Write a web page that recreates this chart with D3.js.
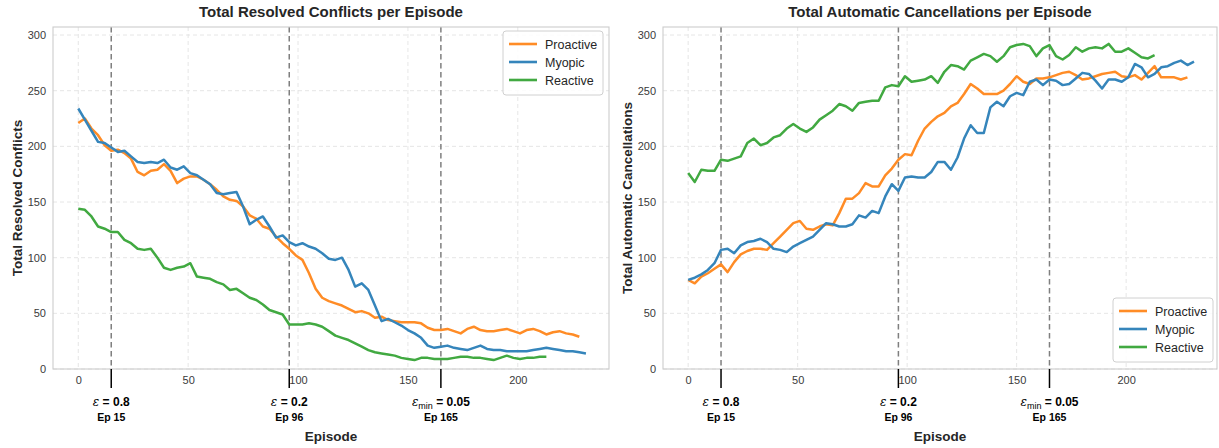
<!DOCTYPE html>
<html>
<head>
<meta charset="utf-8">
<script src="https://cdn.jsdelivr.net/npm/d3@7"></script>
<style>
  body { margin: 0; background: #fff; }
  svg { font-family: "Liberation Sans", Arial, sans-serif; display: block; }
</style>
</head>
<body>
<svg id="chart" width="1219" height="448"></svg>
<script>
// episodes are sampled every EP_STEP episodes (0, 3, 6, ...)
const EP_STEP = 3;
const seriesNames = ["Proactive", "Myopic", "Reactive"];
const seriesColors = ["#ff8c26", "#3585bb", "#41a941"];

const xTicks = [0, 50, 100, 150, 200];
const yTicks = [0, 50, 100, 150, 200, 250, 300];

const epsilonEpisodes = [15, 96, 165];
const epsilonValues = ["0.8", "0.2", "0.05"];

// left panel: resolved conflicts
const resolvedProactive = [221, 225, 216, 210, 201, 196, 197, 194, 189, 177, 174, 178, 179, 184, 178, 167, 171, 173, 173, 170,
  166, 161, 155, 152, 151, 146, 138, 135, 128, 126, 119, 113, 108, 102, 98, 86, 72, 64, 61, 59,
  57, 54, 51, 52, 50, 46, 47, 44, 43, 42, 42, 42, 41, 37, 35, 35, 36, 34, 32, 36,
  38, 35, 34, 34, 35, 36, 34, 32, 35, 36, 34, 31, 33, 34, 32, 31, 29];
const resolvedMyopic = [234, 224, 214, 204, 203, 199, 195, 196, 191, 186, 185, 186, 185, 188, 181, 179, 182, 176, 174, 170,
  166, 158, 157, 158, 159, 146, 130, 134, 137, 128, 118, 120, 114, 111, 113, 110, 108, 104, 99, 98,
  100, 89, 74, 77, 71, 57, 43, 45, 42, 39, 35, 32, 28, 21, 19, 20, 21, 19, 18, 17,
  19, 21, 18, 17, 17, 16, 16, 16, 16, 17, 18, 19, 18, 17, 16, 16, 15, 14];
const resolvedReactive = [144, 143, 137, 128, 126, 123, 123, 116, 113, 108, 107, 108, 100, 91, 89, 91, 92, 95, 83, 82,
  81, 78, 76, 71, 72, 68, 64, 62, 58, 53, 51, 49, 40, 40, 40, 41, 40, 38, 34, 30,
  28, 26, 23, 20, 17, 15, 14, 13, 12, 10, 9, 8, 10, 10, 9, 9, 9, 10, 11, 11,
  10, 10, 9, 8, 10, 12, 10, 9, 10, 10, 11, 11];

// right panel: automatic cancellations
const cancelProactive = [80, 77, 83, 86, 90, 94, 87, 96, 103, 106, 108, 108, 107, 113, 119, 125, 131, 133, 126, 125,
  128, 130, 129, 140, 153, 153, 158, 167, 164, 164, 174, 180, 188, 193, 192, 205, 216, 222, 227, 230,
  236, 239, 247, 256, 252, 247, 247, 247, 250, 256, 263, 258, 256, 261, 261, 262, 264, 266, 267, 264,
  260, 261, 263, 265, 266, 267, 263, 262, 264, 260, 266, 272, 262, 262, 262, 260, 262];
const cancelMyopic = [80, 82, 85, 89, 95, 107, 108, 104, 111, 114, 115, 117, 114, 108, 107, 105, 110, 113, 116, 119,
  125, 131, 130, 128, 128, 130, 138, 136, 142, 140, 155, 166, 160, 172, 173, 172, 172, 177, 186, 186,
  179, 190, 207, 219, 212, 212, 235, 240, 236, 245, 248, 246, 258, 260, 255, 260, 259, 255, 256, 261,
  266, 265, 259, 252, 260, 260, 258, 262, 274, 271, 262, 265, 271, 272, 275, 277, 273, 276];
const cancelReactive = [176, 168, 179, 178, 178, 188, 187, 189, 191, 203, 207, 201, 203, 208, 210, 216, 220, 216, 213, 217,
  224, 228, 232, 238, 236, 232, 239, 240, 241, 241, 253, 255, 254, 263, 258, 259, 260, 263, 257, 267,
  273, 272, 269, 277, 280, 283, 281, 276, 281, 289, 291, 292, 290, 281, 288, 291, 281, 278, 282, 289,
  285, 288, 289, 288, 292, 285, 285, 288, 284, 280, 279, 282];

const svg = d3.select("svg#chart");
const textColor = "#262626";

const drawPanel = (cfg) => {
    const left = cfg.left, right = cfg.right, top = 27, bottom = 369;

    const x = d3.scaleLinear().domain([-11.5, 241.5]).range([left, right]);
    const y = d3.scaleLinear().domain([0, 307.2]).range([bottom, top]);

    const g = svg.append("g").attr("class", "panel");

    // grid
    const grid = g.append("g").attr("class", "grid")
        .attr("stroke", "#e3e3e3").attr("stroke-width", 0.9).attr("stroke-dasharray", "4,3");
    grid.selectAll("line.gx").data(xTicks).enter().append("line")
        .attr("x1", d => x(d)).attr("x2", d => x(d)).attr("y1", top).attr("y2", bottom);
    grid.selectAll("line.gy").data(yTicks).enter().append("line")
        .attr("x1", left).attr("x2", right).attr("y1", d => y(d)).attr("y2", d => y(d));

    // axes (labels only, seaborn style)
    const xAxis = g.append("g").attr("transform", `translate(0,${bottom})`)
        .call(d3.axisBottom(x).tickValues(xTicks).tickSize(0).tickPadding(7));
    const yAxis = g.append("g").attr("transform", `translate(${left},0)`)
        .call(d3.axisLeft(y).tickValues(yTicks).tickSize(0).tickPadding(7));
    [xAxis, yAxis].forEach(ax => {
        ax.select(".domain").remove();
        ax.selectAll("text").attr("font-size", 11).attr("fill", "#3a3a3a")
            .attr("font-family", "Liberation Sans, Arial, sans-serif");
    });

    // epsilon milestone lines
    g.selectAll("line.eps").data(epsilonEpisodes).enter().append("line")
        .attr("x1", d => x(d)).attr("x2", d => x(d))
        .attr("y1", top).attr("y2", bottom)
        .attr("stroke", "#7f7f7f").attr("stroke-width", 1.5).attr("stroke-dasharray", "5.5,3.5");

    // series lines
    const line = d3.line().x((d, i) => x(i * EP_STEP)).y(d => y(d));
    cfg.series.forEach((values, i) => {
        g.append("path").datum(values)
            .attr("fill", "none")
            .attr("stroke", seriesColors[i])
            .attr("stroke-width", 2.5)
            .attr("stroke-linejoin", "round")
            .attr("d", line);
    });

    // frame
    g.append("rect").attr("x", left).attr("y", top)
        .attr("width", right - left).attr("height", bottom - top)
        .attr("fill", "none").attr("stroke", "#cccccc").attr("stroke-width", 1.1);

    // epsilon markers below the axis
    const marks = g.selectAll("g.epsMark").data(epsilonEpisodes).enter().append("g")
        .attr("transform", d => `translate(${x(d)},0)`);
    marks.append("line").attr("y1", bottom).attr("y2", bottom + 19)
        .attr("stroke", "#000").attr("stroke-width", 1.5);
    const epsText = marks.append("text").attr("y", 406).attr("text-anchor", "middle")
        .attr("font-size", 12).attr("fill", "#000");
    epsText.append("tspan").attr("font-style", "italic").attr("font-family", "DejaVu Serif, serif")
        .attr("font-size", 12).text("ε");
    epsText.filter((d, i) => i === 2).append("tspan").attr("font-size", 9).attr("dy", 3).text("min");
    epsText.append("tspan").attr("font-weight", "bold")
        .attr("dy", (d, i) => i === 2 ? -3 : 0)
        .text((d, i) => " = " + epsilonValues[i]);
    marks.append("text").attr("y", 421).attr("text-anchor", "middle")
        .attr("font-size", 10.5).attr("font-weight", "bold").attr("fill", "#000")
        .text(d => "Ep " + d);

    // titles
    g.append("text").attr("x", (left + right) / 2).attr("y", 17).attr("text-anchor", "middle")
        .attr("font-size", 15).attr("font-weight", "bold").attr("fill", textColor).text(cfg.title);
    g.append("text").attr("x", (left + right) / 2).attr("y", 441).attr("text-anchor", "middle")
        .attr("font-size", 13.5).attr("font-weight", "bold").attr("fill", textColor).text("Episode");
    g.append("text")
        .attr("transform", `translate(${left - 31},${(top + bottom) / 2}) rotate(-90)`)
        .attr("text-anchor", "middle").attr("font-size", 13.5).attr("font-weight", "bold")
        .attr("fill", textColor).text(cfg.yLabel);

    // legend
    const lg = g.append("g").attr("transform", `translate(${cfg.legendX},${cfg.legendY})`);
    lg.append("rect").attr("width", 100).attr("height", 64).attr("rx", 3)
        .attr("fill", "#fff").attr("fill-opacity", 0.85).attr("stroke", "#d0d0d0");
    const items = lg.selectAll("g.item").data(seriesNames).enter().append("g")
        .attr("transform", (d, i) => `translate(0,${13 + i * 18})`);
    items.append("line").attr("x1", 6).attr("x2", 34)
        .attr("stroke", (d, i) => seriesColors[i]).attr("stroke-width", 2.6);
    items.append("text").attr("x", 42).attr("y", 4.5).attr("font-size", 12.5)
        .attr("fill", textColor).text(d => d);
};

drawPanel({
    left: 53, right: 609,
    title: "Total Resolved Conflicts per Episode",
    yLabel: "Total Resolved Conflicts",
    series: [resolvedProactive, resolvedMyopic, resolvedReactive],
    legendX: 503, legendY: 31
});

drawPanel({
    left: 663, right: 1217,
    title: "Total Automatic Cancellations per Episode",
    yLabel: "Total Automatic Cancellations",
    series: [cancelProactive, cancelMyopic, cancelReactive],
    legendX: 1113, legendY: 298
});
</script>
</body>
</html>
